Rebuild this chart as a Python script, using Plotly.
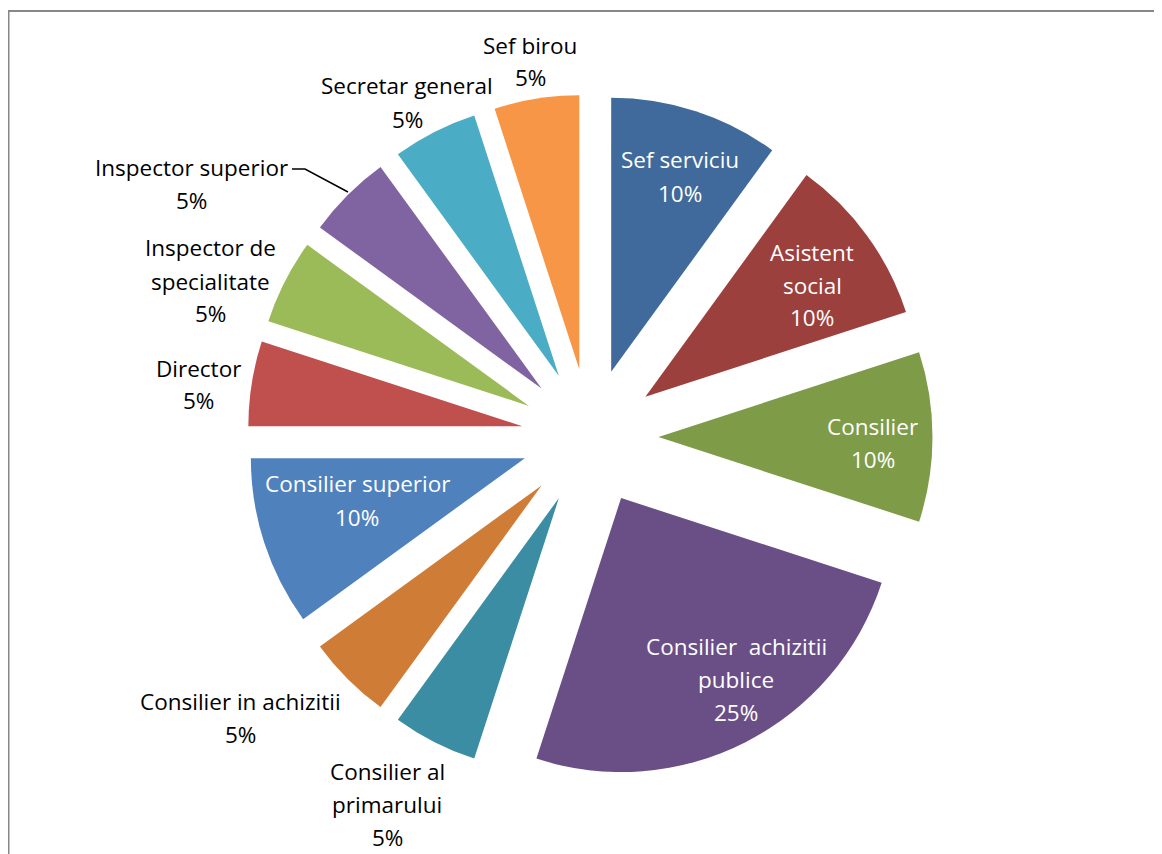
import plotly.graph_objects as go

# ---- data (clockwise from 12 o'clock) ----
categories = ["Sef serviciu", "Asistent social", "Consilier", "Consilier  achizitii publice",
              "Consilier al primarului", "Consilier in achizitii", "Consilier superior",
              "Director", "Inspector de specialitate", "Inspector superior",
              "Secretar general", "Sef birou"]
values = [10, 10, 10, 25, 5, 5, 10, 5, 5, 5, 5, 5]
label_lines = [["Sef serviciu"], ["Asistent", "social"], ["Consilier"],
               ["Consilier  achizitii", "publice"], ["Consilier al", "primarului"],
               ["Consilier in achizitii"], ["Consilier superior"], ["Director"],
               ["Inspector de", "specialitate"], ["Inspector superior"],
               ["Secretar general"], ["Sef birou"]]

# ---- styles / layout ----
colors = ["#3F6A9B", "#9C403D", "#7E9B48", "#6A4F87", "#3B8DA3", "#CF7C36",
          "#4F81BD", "#C0504D", "#9BBB59", "#8064A2", "#4BACC6", "#F79646"]
inside = [True, True, True, True, False, False, True, False, False, False, False, False]
# label block centre x and first-line y, in page pixels
label_pos = [(680, 160), (812, 252), (873, 426), (736, 646), (387, 771), (240, 701),
             (357, 484), (198, 368), (210, 248), (191, 167), (407, 86), (530, 45)]
LINE_H = 33
W, H = 1162, 854
OFF = 8  # page offset of the figure (body margin)
FONT = "Open Sans"
FS = 22.5


def px(x):
    return (x - OFF) / W


def py(y):
    return 1 - (y - OFF) / H


fig = go.Figure(go.Pie(
    labels=categories, values=values, sort=False, direction="clockwise", rotation=0,
    marker=dict(colors=colors, line=dict(width=0)),
    pull=[0.25] * len(values), textinfo="none", hoverinfo="label+percent",
    domain=dict(x=[px(247.5), px(932.5)], y=[py(779.5), py(94.5)]),
    showlegend=False,
))

total = sum(values)
annotations = []
for lines, v, (cx, y0), ins in zip(label_lines, values, label_pos, inside):
    pct = f"{round(100 * v / total)}%"
    all_lines = lines + [pct]
    for i, t in enumerate(all_lines):
        annotations.append(dict(
            x=px(cx), y=py(y0 + i * LINE_H), xref="paper", yref="paper",
            text=t, showarrow=False, xanchor="center", yanchor="middle",
            font=dict(family=FONT, size=FS, color="white" if ins else "black"),
        ))

shapes = [
    # chart frame (only left and top edges visible)
    dict(type="rect", xref="paper", yref="paper", x0=0.5 / W, x1=1.02, y0=-0.02, y1=py(11),
         line=dict(color="#878787", width=2), fillcolor="rgba(0,0,0,0)", layer="below"),
    # leader line for Inspector superior
    dict(type="path", xref="paper", yref="paper",
         path=f"M {px(292)} {py(169)} L {px(305)} {py(169)} L {px(348)} {py(192)}",
         line=dict(color="black", width=1.5)),
]

fig.update_layout(
    width=W, height=H, margin=dict(l=0, r=0, t=0, b=0),
    paper_bgcolor="white", plot_bgcolor="white",
    annotations=annotations, shapes=shapes,
)

fig.write_html("out.html")
